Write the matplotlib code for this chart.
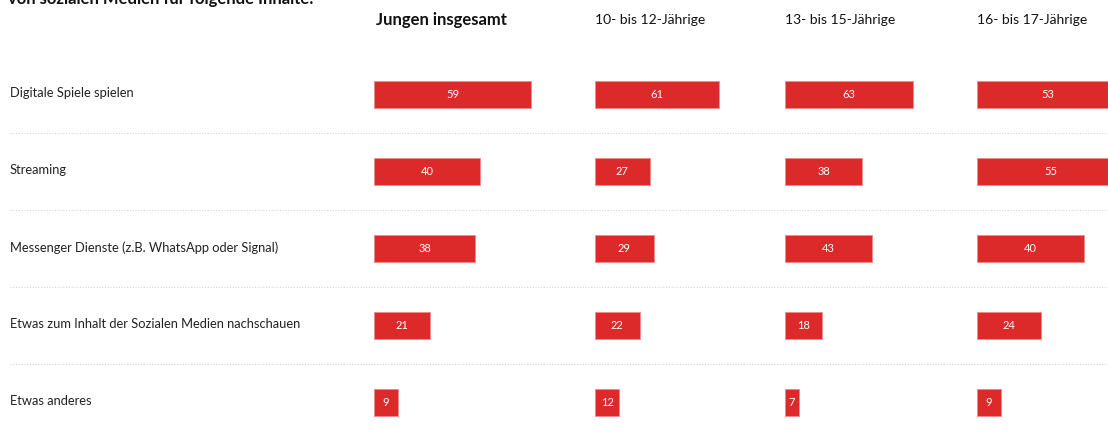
import matplotlib
matplotlib.use("Agg")
import matplotlib.pyplot as plt

plt.rcParams['font.family'] = ['Lato', 'DejaVu Sans']

categories = [
    "Digitale Spiele spielen",
    "Streaming",
    "Messenger Dienste (z.B. WhatsApp oder Signal)",
    "Etwas zum Inhalt der Sozialen Medien nachschauen",
    "Etwas anderes",
]
groups = ["Jungen insgesamt", "10- bis 12-Jährige", "13- bis 15-Jährige", "16- bis 17-Jährige"]
jungen_insgesamt = [59, 40, 38, 21, 9]
age_10_12 = [61, 27, 29, 22, 12]
age_13_15 = [63, 38, 43, 18, 7]
age_16_17 = [53, 55, 40, 24, 9]
series = [jungen_insgesamt, age_10_12, age_13_15, age_16_17]
title = "von sozialen Medien für folgende Inhalte:"

W, H = 1108, 432
fig = plt.figure(figsize=(W / 100, H / 100), dpi=100)

# pixel layout of each column: (left, right, px per unit)
cols = [(374, 594, 2.66), (595, 785, 2.03), (785, 977, 2.03), (977, 1108, 2.67)]
row0, rowstep = 94, 77
ylim = ((H - row0) / rowstep, -row0 / rowstep)

bar_color = "#dc2a2b"

# background axis for labels and separators
axbg = fig.add_axes([0, 0, 1, 1])
axbg.set_xlim(0, W)
axbg.set_ylim(*ylim)
axbg.axis("off")
for i, cat in enumerate(categories):
    axbg.text(10, i - 0.01, cat, fontsize=9.3, color="#222222", va="center", ha="left")
    if i < len(categories) - 1:
        axbg.hlines(i + 0.5, 10, W, colors="#d4d4d4", linestyles=(0, (1, 1.5)), lw=0.8)

for (left, right, scale), vals, name, k in zip(cols, series, groups, range(4)):
    ax = fig.add_axes([left / W, 0, (right - left) / W, 1])
    ax.set_xlim(0, (right - left) / scale)
    ax.set_ylim(*ylim)
    ax.axis("off")
    ax.barh(range(len(vals)), vals, height=27 / rowstep, color=bar_color,
            edgecolor="#f08a8a", linewidth=0.6, left=0)
    for i, v in enumerate(vals):
        ax.text(v / 2, i, str(v), ha="center", va="center", color="white", fontsize=8)
    fig.text(left / W + (0.002 if k == 0 else 0), 1 - 20 / H, name,
             fontsize=12 if k == 0 else 10, fontweight="bold" if k == 0 else "normal",
             color="#111111", ha="left", va="center")

fig.text(8 / W, 1 + 1 / H, title, fontsize=12, fontweight="bold", color="#111111",
         ha="left", va="center")

fig.savefig("out.png", dpi=100)
